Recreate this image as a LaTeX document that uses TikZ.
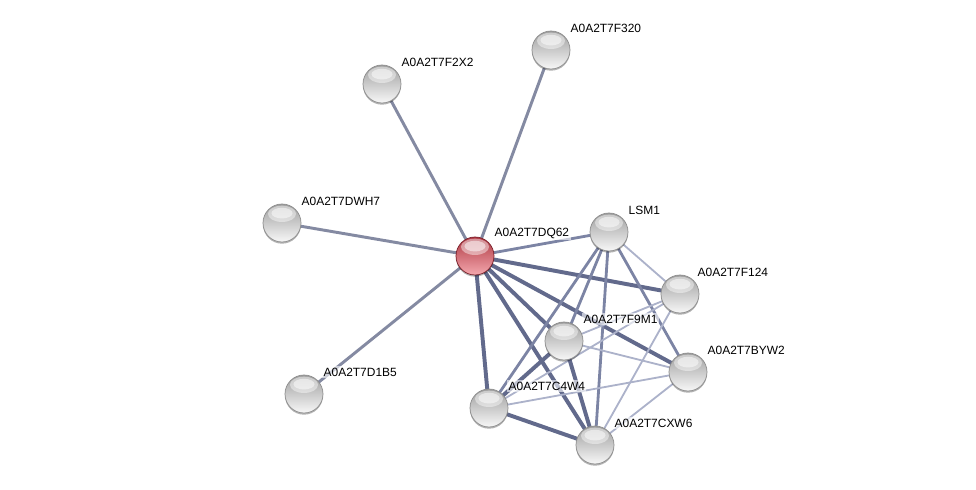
\documentclass[tikz,border=0pt]{standalone}
\usepackage{fontspec}
\setmainfont{Liberation Sans}
\usetikzlibrary{shadows}
\begin{document}
\begin{tikzpicture}[x=0.025cm,y=-0.025cm,
  sphere/.style={circle,minimum size=0.95cm,inner sep=0pt,line width=0.5pt,
    drop shadow={shadow xshift=0pt,shadow yshift=-1.2pt,opacity=0.3,fill=black},
    path picture={
      \fill[white,opacity=0.45] ([yshift=-7pt]path picture bounding box.north) ellipse[x radius=10pt,y radius=5.8pt];
      \fill[white,opacity=0.5] ([yshift=-6.5pt]path picture bounding box.north) ellipse[x radius=7.5pt,y radius=3.8pt];
    }},
  prot/.style={sphere,top color=black!38,middle color=black!13,bottom color=white!97!black,draw=black!45},
  query/.style={sphere,top color={rgb,255:red,175;green,55;blue,66},middle color={rgb,255:red,222;green,112;blue,120},bottom color={rgb,255:red,244;green,168;blue,174},draw={rgb,255:red,120;green,30;blue,40}},
  lbl/.style={anchor=west,font=\fontsize{8.5}{10}\selectfont,inner sep=1pt,fill=white,fill opacity=0.6,text opacity=1},
  emed/.style={line width=2.1pt,color={rgb,255:red,132;green,138;blue,162}},
  ethick/.style={line width=2.8pt,color={rgb,255:red,98;green,106;blue,140}},
  ethin/.style={line width=1.3pt,color={rgb,255:red,172;green,178;blue,202}},
  emid/.style={line width=2.0pt,color={rgb,255:red,124;green,132;blue,164}}]
\useasboundingbox (0,0) rectangle (976,490);
% node coordinates
\coordinate (cDQ) at (475,256);
\coordinate (cF320) at (551,50);
\coordinate (cF2X2) at (382,84);
\coordinate (cDWH) at (282,223);
\coordinate (cD1B) at (304,394);
\coordinate (cLSM) at (609,232);
\coordinate (cF124) at (680,294);
\coordinate (cF9M) at (564,341);
\coordinate (cBYW) at (688,372);
\coordinate (cC4W) at (489,408);
\coordinate (cCXW) at (595,445);
% edges (drawn first, centre to centre)
\draw[emed] (cDQ) -- (cF320);
\draw[emed] (cDQ) -- (cF2X2);
\draw[emed] (cDQ) -- (cDWH);
\draw[emed] (cDQ) -- (cD1B);
\draw[emid] (cDQ) -- (cLSM);
\draw[ethick] (cDQ) -- (cF124);
\draw[ethick] (cDQ) -- (cBYW);
\draw[ethick] (cDQ) -- (cF9M);
\draw[ethick] (cDQ) -- (cCXW);
\draw[ethick] (cDQ) -- (cC4W);
\draw[emid] (cLSM) -- (cF9M);
\draw[emid] (cLSM) -- (cC4W);
\draw[emid] (cLSM) -- (cCXW);
\draw[emid] (cLSM) -- (cBYW);
\draw[ethin] (cLSM) -- (cF124);
\draw[ethin] (cF124) -- (cF9M);
\draw[ethin] (cF124) -- (cC4W);
\draw[ethin] (cF124) -- (cCXW);
\draw[ethick] (cF9M) -- (cC4W);
\draw[ethick] (cF9M) -- (cCXW);
\draw[ethin] (cF9M) -- (cBYW);
\draw[ethin] (cC4W) -- (cBYW);
\draw[ethick] (cC4W) -- (cCXW);
\draw[ethin] (cBYW) -- (cCXW);
% nodes
\node[query] (DQ) at (cDQ) {};
\node[prot] (F320) at (cF320) {};
\node[prot] (F2X2) at (cF2X2) {};
\node[prot] (DWH) at (cDWH) {};
\node[prot] (D1B) at (cD1B) {};
\node[prot] (LSM) at (cLSM) {};
\node[prot] (F124) at (cF124) {};
\node[prot] (F9M) at (cF9M) {};
\node[prot] (BYW) at (cBYW) {};
\node[prot] (C4W) at (cC4W) {};
\node[prot] (CXW) at (cCXW) {};
% labels
\node[lbl] (lDQ) at ([shift={(18,-23)}]cDQ) {A0A2T7DQ62};
\node[lbl] (lF320) at ([shift={(18,-22)}]cF320) {A0A2T7F320};
\node[lbl] (lF2X2) at ([shift={(18,-22)}]cF2X2) {A0A2T7F2X2};
\node[lbl] (lDWH) at ([shift={(18,-22)}]cDWH) {A0A2T7DWH7};
\node[lbl] (lD1B) at ([shift={(18,-22)}]cD1B) {A0A2T7D1B5};
\node[lbl] (lLSM) at ([shift={(18,-22)}]cLSM) {LSM1};
\node[lbl] (lF124) at ([shift={(16,-22)}]cF124) {A0A2T7F124};
\node[lbl] (lF9M) at ([shift={(18,-22)}]cF9M) {A0A2T7F9M1};
\node[lbl] (lBYW) at ([shift={(18,-22)}]cBYW) {A0A2T7BYW2};
\node[lbl] (lC4W) at ([shift={(18,-22)}]cC4W) {A0A2T7C4W4};
\node[lbl] (lCXW) at ([shift={(18,-22)}]cCXW) {A0A2T7CXW6};
\end{tikzpicture}
\end{document}
